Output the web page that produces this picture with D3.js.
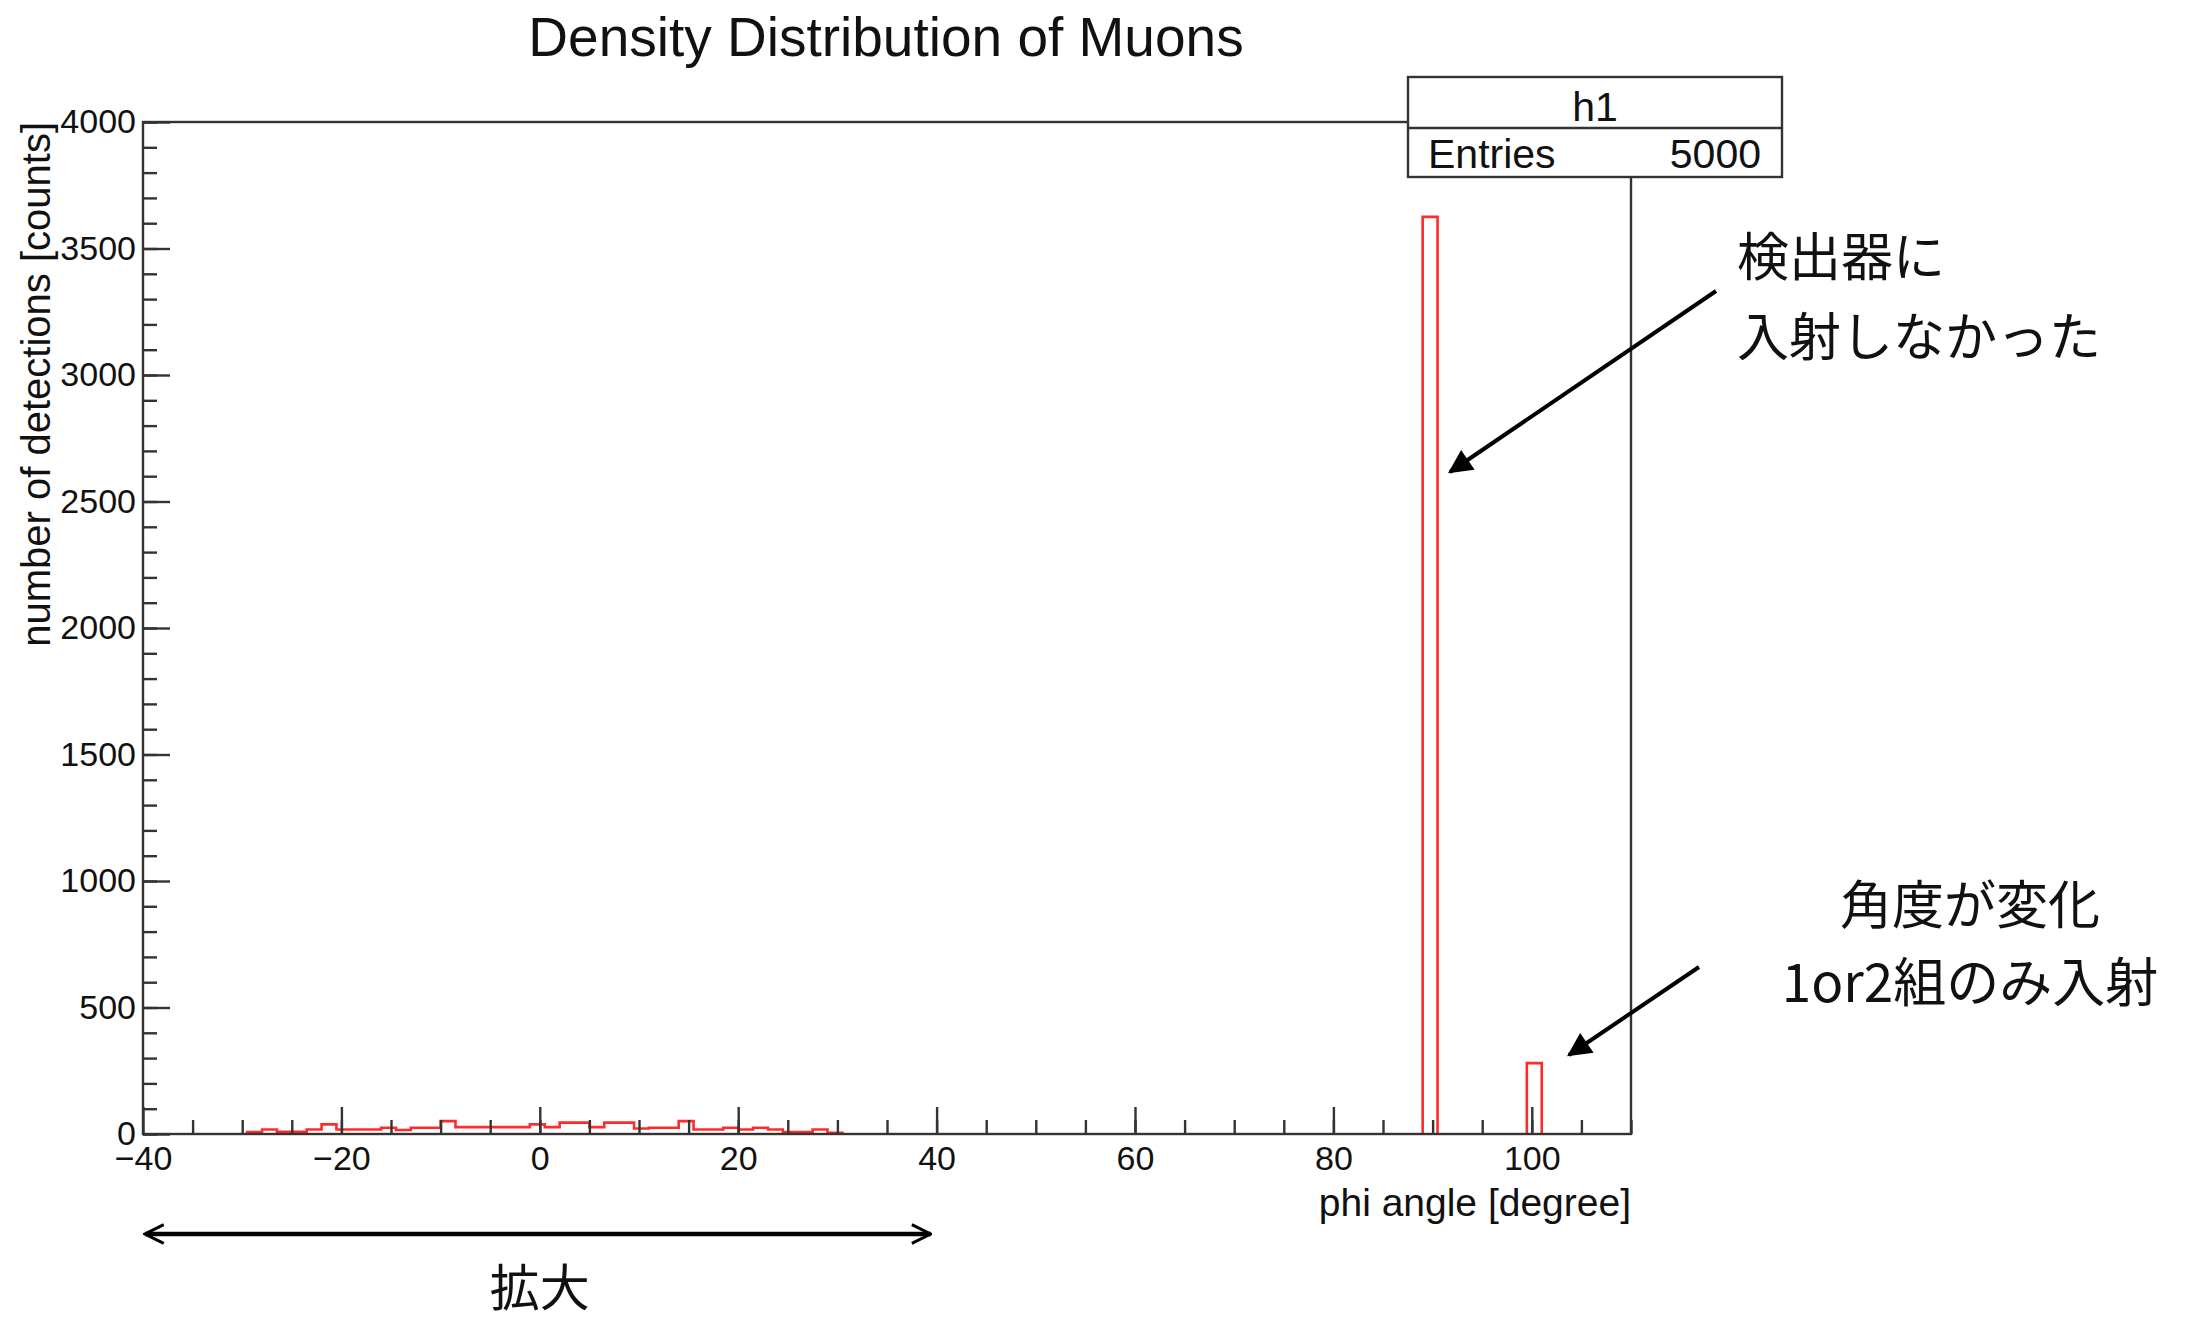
<!DOCTYPE html>
<html>
<head>
<meta charset="utf-8">
<script src="https://cdn.jsdelivr.net/npm/d3@7"></script>
<style>
  body { margin: 0; background: #fff; }
  svg text { font-family: "Liberation Sans", Arial, Helvetica, sans-serif; fill: #111; }
  svg text.jp { font-family: "Noto Sans CJK JP", sans-serif; }
</style>
</head>
<body>
<div id="chart"></div>
<script>
const width = 2197;
const height = 1319;

// histogram definition: 100 bins from -40 to 110 degrees
const histMin = -40;
const histMax = 110;
const nBins = 100;

// entries per bin
const counts = [
  0, 0, 0, 0, 0, 0, 0,
  8, 18, 9, 9, 18, 38, 18, 18, 18, 25,
  16, 25, 25, 51, 27, 27, 27, 27, 27, 38,
  27, 45, 45, 27, 45, 45, 22, 25, 25, 51,
  18, 18, 25, 18, 25, 18, 8, 8, 18, 5,
  0, 0, 0, 0, 0, 0, 0, 0, 0, 0,
  0, 0, 0, 0, 0, 0, 0, 0, 0, 0,
  0, 0, 0, 0, 0, 0, 0, 0, 0, 0,
  0, 0, 0, 0, 0, 0, 0, 0, 0,
  3625,
  0, 0, 0, 0, 0, 0,
  280,
  0, 0, 0, 0, 0, 0
];

const xMajorTicks = [-40, -20, 0, 20, 40, 60, 80, 100];
const yMajorTicks = [0, 500, 1000, 1500, 2000, 2500, 3000, 3500, 4000];

const titleText = "Density Distribution of Muons";
const xTitle = "phi angle [degree]";
const yTitle = "number of detections [counts]";
const statsName = "h1";
const statsEntries = 5000;

const noteTop = ["検出器に", "入射しなかった"];
const noteBottom = ["角度が変化", "1or2組のみ入射"];
const noteRange = "拡大";

const svg = d3
  .select("#chart")
  .append("svg")
  .attr("width", width)
  .attr("height", height);

const x = d3.scaleLinear().domain([histMin, histMax]).range([143, 1631]);
const y = d3.scaleLinear().domain([0, 4000]).range([1134, 122]);

const binWidth = (histMax - histMin) / nBins;

// title
svg
  .append("text")
  .attr("x", 886)
  .attr("y", 56)
  .attr("text-anchor", "middle")
  .style("font-size", "55px")
  .text(titleText);

// histogram outline, one path per run of filled bins
const runs = [];
let run = null;
counts.forEach((c, i) => {
  if (c > 0) {
    if (!run) {
      run = [];
      runs.push(run);
    }
    run.push({ x0: histMin + i * binWidth, x1: histMin + (i + 1) * binWidth, c: c });
  } else {
    run = null;
  }
});

const line = d3
  .line()
  .x((d) => x(d[0]))
  .y((d) => y(d[1]));

runs.forEach((r) => {
  const pts = [[r[0].x0, 0]];
  r.forEach((b) => {
    pts.push([b.x0, b.c]);
    pts.push([b.x1, b.c]);
  });
  pts.push([r[r.length - 1].x1, 0]);
  svg
    .append("path")
    .attr("d", line(pts))
    .attr("fill", "none")
    .attr("stroke", "#ff2b2b")
    .attr("stroke-width", 2.6);
});

// frame
svg
  .append("rect")
  .attr("x", x(histMin))
  .attr("y", y(4000))
  .attr("width", x(histMax) - x(histMin))
  .attr("height", y(0) - y(4000))
  .attr("fill", "none")
  .attr("stroke", "#333")
  .attr("stroke-width", 2.4);

// x axis: minor ticks every 5, major every 20
const xMinor = d3
  .axisBottom(x)
  .tickValues(d3.range(-35, 111, 5))
  .tickSizeInner(-14)
  .tickSizeOuter(0)
  .tickFormat("");
const xMajor = d3
  .axisBottom(x)
  .tickValues(xMajorTicks)
  .tickSizeInner(-27)
  .tickSizeOuter(0)
  .tickPadding(12)
  .tickFormat((d) => (d < 0 ? "\u2212" + Math.abs(d) : d));

[xMinor, xMajor].forEach((ax) => {
  const g = svg
    .append("g")
    .attr("transform", "translate(0," + y(0) + ")")
    .call(ax);
  g.select(".domain").remove();
  g.selectAll("line").attr("stroke", "#333").attr("stroke-width", 2.4);
  g.selectAll("text").style("font-size", "34px").attr("fill", "#111");
});

// y axis: minor ticks every 100, major every 500
const yMinor = d3
  .axisLeft(y)
  .tickValues(d3.range(0, 4001, 100))
  .tickSizeInner(-14)
  .tickSizeOuter(0)
  .tickFormat("");
const yMajor = d3
  .axisLeft(y)
  .tickValues(yMajorTicks)
  .tickSizeInner(-27)
  .tickSizeOuter(0)
  .tickPadding(7)
  .tickFormat(d3.format("d"));

[yMinor, yMajor].forEach((ax) => {
  const g = svg
    .append("g")
    .attr("transform", "translate(" + x(histMin) + ",0)")
    .call(ax);
  g.select(".domain").remove();
  g.selectAll("line").attr("stroke", "#333").attr("stroke-width", 2.4);
  g.selectAll("text").style("font-size", "34px").attr("fill", "#111");
});

// axis titles
svg
  .append("text")
  .attr("x", x(histMax))
  .attr("y", 1216)
  .attr("text-anchor", "end")
  .style("font-size", "39px")
  .text(xTitle);

svg
  .append("text")
  .attr("transform", "translate(50," + y(4000) + ") rotate(-90)")
  .attr("text-anchor", "end")
  .style("font-size", "40px")
  .text(yTitle);

// stats box
const stats = svg.append("g");
stats
  .append("rect")
  .attr("x", 1408)
  .attr("y", 77)
  .attr("width", 374)
  .attr("height", 100)
  .attr("fill", "#fff")
  .attr("stroke", "#333")
  .attr("stroke-width", 2.4);
stats
  .append("line")
  .attr("x1", 1408)
  .attr("x2", 1782)
  .attr("y1", 128)
  .attr("y2", 128)
  .attr("stroke", "#333")
  .attr("stroke-width", 2.4);
stats
  .append("text")
  .attr("x", 1595)
  .attr("y", 121)
  .attr("text-anchor", "middle")
  .style("font-size", "41px")
  .text(statsName);
stats
  .append("text")
  .attr("x", 1428)
  .attr("y", 168)
  .style("font-size", "41px")
  .text("Entries");
stats
  .append("text")
  .attr("x", 1761)
  .attr("y", 168)
  .attr("text-anchor", "end")
  .style("font-size", "41px")
  .text(statsEntries);

// annotations
const defs = svg.append("defs");
defs
  .append("marker")
  .attr("id", "head")
  .attr("viewBox", "0 0 10 10")
  .attr("refX", 9)
  .attr("refY", 5)
  .attr("markerWidth", 7)
  .attr("markerHeight", 6)
  .attr("markerUnits", "strokeWidth")
  .attr("orient", "auto")
  .append("path")
  .attr("d", "M0,0 L10,5 L0,10 Z")
  .attr("fill", "#000");
defs
  .append("marker")
  .attr("id", "chev")
  .attr("viewBox", "0 0 12 12")
  .attr("refX", 11)
  .attr("refY", 6)
  .attr("markerWidth", 5)
  .attr("markerHeight", 5)
  .attr("markerUnits", "strokeWidth")
  .attr("orient", "auto-start-reverse")
  .append("path")
  .attr("d", "M1,1 L11,6 L1,11")
  .attr("fill", "none")
  .attr("stroke", "#000")
  .attr("stroke-width", 1.6);

svg
  .append("line")
  .attr("x1", 1716)
  .attr("y1", 291)
  .attr("x2", 1450)
  .attr("y2", 472)
  .attr("stroke", "#000")
  .attr("stroke-width", 4)
  .attr("marker-end", "url(#head)");

svg
  .append("line")
  .attr("x1", 1699)
  .attr("y1", 967)
  .attr("x2", 1569)
  .attr("y2", 1055)
  .attr("stroke", "#000")
  .attr("stroke-width", 4)
  .attr("marker-end", "url(#head)");

svg
  .append("line")
  .attr("x1", x(-40) + 2)
  .attr("y1", 1234)
  .attr("x2", x(40) - 6)
  .attr("y2", 1234)
  .attr("stroke", "#000")
  .attr("stroke-width", 4.5)
  .attr("marker-start", "url(#chev)")
  .attr("marker-end", "url(#chev)");

svg
  .append("text")
  .attr("class", "jp")
  .attr("x", 1737)
  .attr("y", 276)
  .style("font-size", "52px")
  .text(noteTop[0]);
svg
  .append("text")
  .attr("class", "jp")
  .attr("x", 1737)
  .attr("y", 356)
  .style("font-size", "52px")
  .text(noteTop[1]);

svg
  .append("text")
  .attr("class", "jp")
  .attr("x", 1970)
  .attr("y", 924)
  .attr("text-anchor", "middle")
  .style("font-size", "52px")
  .text(noteBottom[0]);
svg
  .append("text")
  .attr("class", "jp")
  .attr("x", 1970)
  .attr("y", 1002)
  .attr("text-anchor", "middle")
  .style("font-size", "53px")
  .text(noteBottom[1]);

svg
  .append("text")
  .attr("class", "jp")
  .attr("x", x(0))
  .attr("y", 1306)
  .attr("text-anchor", "middle")
  .style("font-size", "50px")
  .text(noteRange);
</script>
</body>
</html>
